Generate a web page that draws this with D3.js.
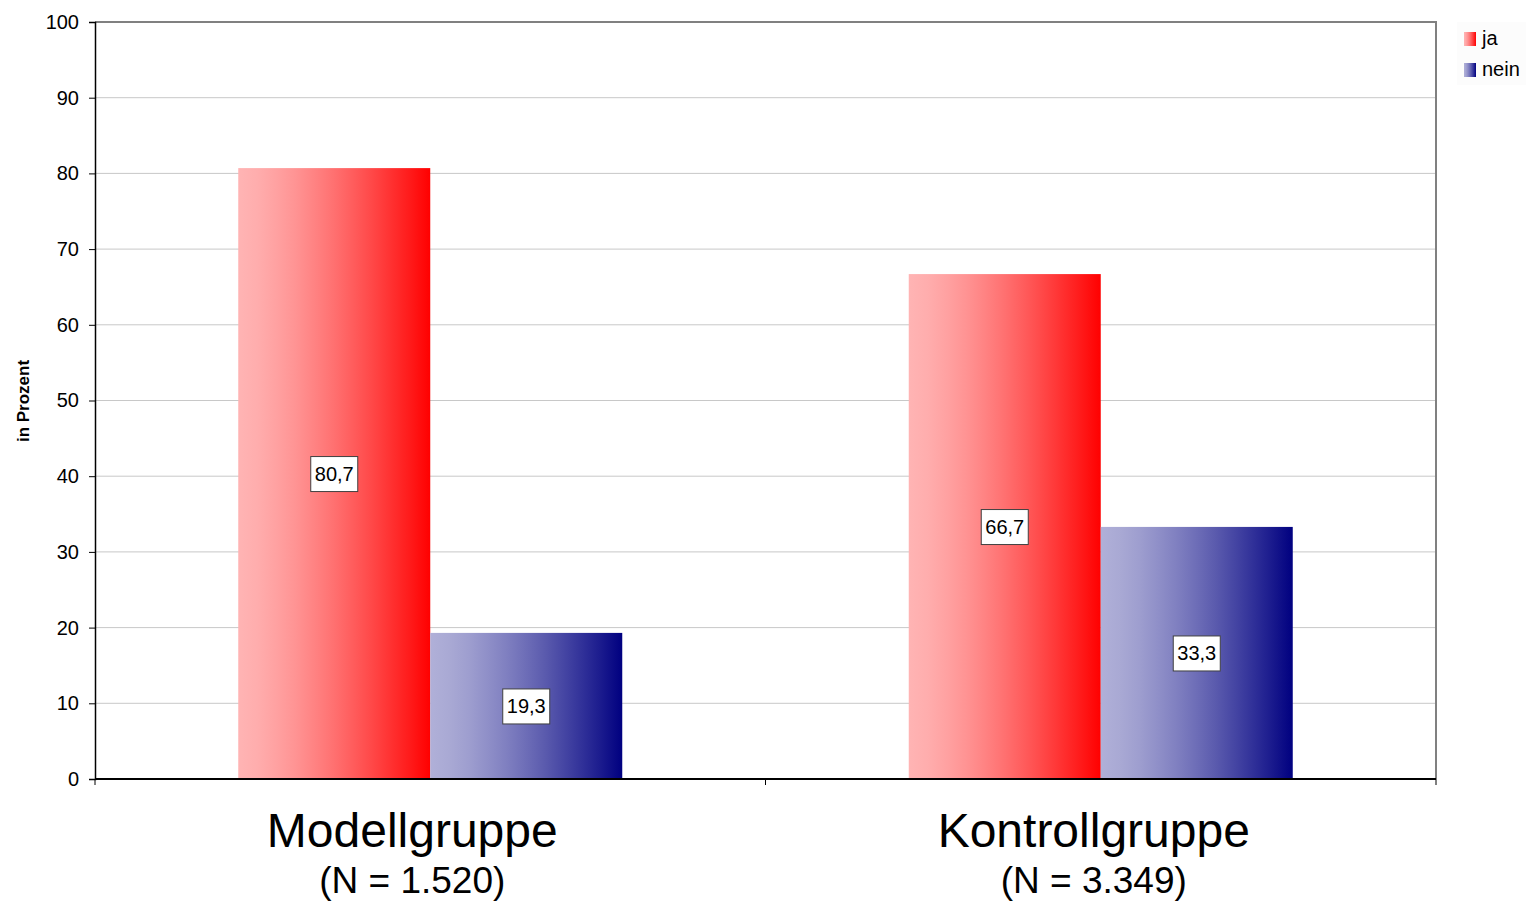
<!DOCTYPE html>
<html><head><meta charset="utf-8">
<script src="https://cdn.jsdelivr.net/npm/d3@7"></script>
<style>html,body{margin:0;padding:0;background:#fff;}svg{display:block;font-family:"Liberation Sans",Arial,sans-serif;}</style>
</head><body>
<svg id="c" width="1526" height="901"></svg>
<script>
const categories = ["Modellgruppe", "Kontrollgruppe"];
const subtitles = ["(N = 1.520)", "(N = 3.349)"];
const seriesNames = ["ja", "nein"];
const jaValues = [80.7, 66.7];
const neinValues = [19.3, 33.3];
const yTicks = [0,10,20,30,40,50,60,70,80,90,100];
const fmt = v => String(v).replace(".", ",");

const svg = d3.select("#c");
const m = {l:95, r:1436, t:22, b:779};
const x = d3.scaleBand().domain(categories).range([m.l, m.r]);
const y = d3.scaleLinear().domain([0,100]).range([m.b, m.t]);
const sub = d3.scaleBand().domain(seriesNames).range([0, 384]);

const defs = svg.append("defs");
const grads = {ja:["#ffb4b4","#ff0000"], nein:["#b0b0d8","#000080"]};
for (const k of seriesNames) {
  const g = defs.append("linearGradient").attr("id","g_"+k).attr("x1","0").attr("x2","1").attr("y1","0").attr("y2","0");
  const ip = d3.interpolateRgb(grads[k][0], grads[k][1]);
  d3.range(0, 1.0001, 0.1).forEach(t => {
    g.append("stop").attr("offset", t).attr("stop-color", ip(Math.pow(t, 1.4)));
  });
}

// gridlines
svg.append("g").selectAll("line").data(yTicks.filter(t=>t>0)).join("line")
  .attr("x1",m.l).attr("x2",m.r).attr("y1",d=>y(d)).attr("y2",d=>y(d))
  .attr("stroke","#c8c8c8").attr("stroke-width",1);

// plot border top/right
svg.append("path").attr("d",`M${m.l},${m.t}H${m.r}V${m.b}`).attr("fill","none").attr("stroke","#808080").attr("stroke-width",2);

// bars
const data = [];
categories.forEach((c,i)=>{
  data.push({c, s:"ja", v:jaValues[i]});
  data.push({c, s:"nein", v:neinValues[i]});
});
const bx = d => x(d.c) + (x.bandwidth()-384)/2 + sub(d.s);
svg.append("g").selectAll("rect").data(data).join("rect")
  .attr("x",bx).attr("width",sub.bandwidth())
  .attr("y",d=>y(d.v)).attr("height",d=>y(0)-y(d.v))
  .attr("fill",d=>`url(#g_${d.s})`);

// data labels
const lab = svg.append("g").selectAll("g").data(data).join("g")
  .attr("transform",d=>`translate(${bx(d)+sub.bandwidth()/2},${(y(d.v)+y(0))/2})`);
lab.append("rect").attr("x",-23.5).attr("y",-17).attr("width",47).attr("height",35)
  .attr("fill","#fff").attr("stroke","#404040").attr("stroke-width",1);
lab.append("text").attr("text-anchor","middle").attr("dy","0.35em").attr("font-size",20)
  .text(d=>fmt(d.v));

// y axis
const ya = svg.append("g").attr("transform",`translate(${m.l},0)`)
  .call(d3.axisLeft(y).tickValues(yTicks).tickSize(6).tickPadding(10));
ya.select(".domain").attr("stroke","#000").attr("stroke-width",1.5);
ya.selectAll(".tick line").attr("stroke","#000");
ya.selectAll("text").attr("font-size",20).attr("font-family","Liberation Sans, Arial, sans-serif").attr("fill","#000");

// x axis
const xa = svg.append("g").attr("transform",`translate(0,${m.b})`);
xa.append("line").attr("x1",m.l).attr("x2",m.r).attr("stroke","#000").attr("stroke-width",2);
const xTicks = [m.l, ...categories.slice(1).map(c=>x(c)), m.r];
xa.selectAll(".xt").data(xTicks).join("line").attr("class","xt")
  .attr("x1",d=>d).attr("x2",d=>d).attr("y1",0).attr("y2",6).attr("stroke","#000").attr("stroke-width",1);

// category labels
const labelShift = [-18, -7];
const cl = svg.append("g").selectAll("g").data(categories).join("g")
  .attr("transform",(c,i)=>`translate(${x(c)+x.bandwidth()/2 + labelShift[i]},0)`);
cl.append("text").attr("text-anchor","middle").attr("y",847).attr("font-size",48).text(c=>c);
cl.append("text").attr("text-anchor","middle").attr("y",893).attr("font-size",37).text((c,i)=>subtitles[i]);

// y title
svg.append("text").attr("transform","translate(29,401) rotate(-90)").attr("text-anchor","middle")
  .attr("font-size",17).attr("font-weight","bold").text("in Prozent");

// legend
const lg = svg.append("g").attr("transform","translate(1457,22)");
lg.append("rect").attr("width",69).attr("height",63).attr("fill","#fcfcfc");
const li = lg.selectAll("g").data(seriesNames).join("g").attr("transform",(d,i)=>`translate(7,${10+i*31})`);
li.append("rect").attr("width",12).attr("height",14).attr("fill",d=>`url(#g_${d})`);
li.append("text").attr("x",18).attr("y",13).attr("font-size",20).text(d=>d);
</script>
</body></html>
